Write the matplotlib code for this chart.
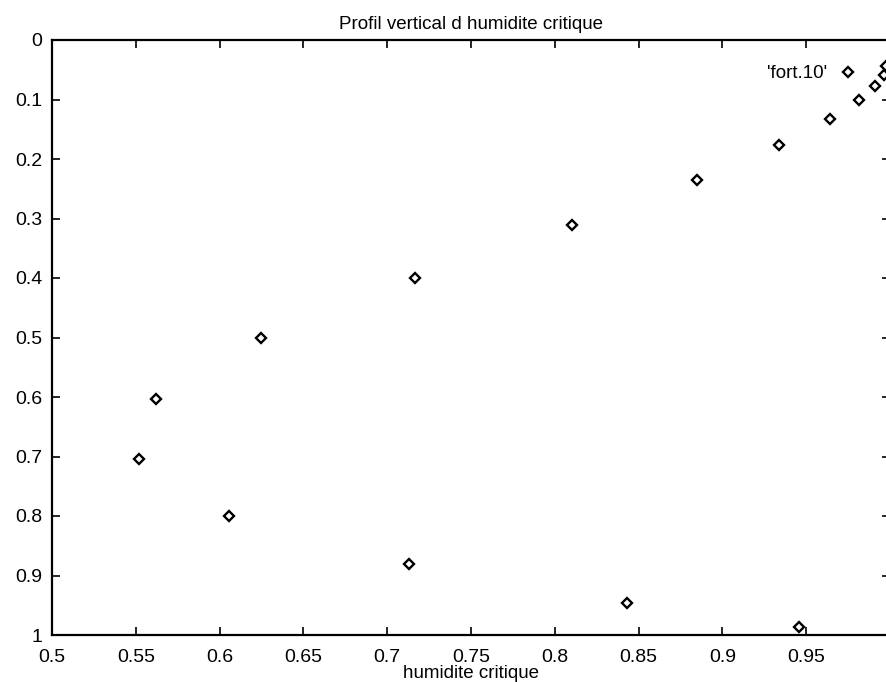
import matplotlib
matplotlib.use('Agg')
import matplotlib.pyplot as plt

plt.rcParams['font.family'] = ['Liberation Sans', 'DejaVu Sans']

# points (humidite critique vs depth)
hum = [0.9976, 0.9964, 0.991, 0.9815, 0.964, 0.934, 0.885, 0.810, 0.7166,
       0.625, 0.562, 0.552, 0.6056, 0.713, 0.843, 0.946]
niveau = [0.044, 0.059, 0.077, 0.101, 0.133, 0.176, 0.235, 0.311, 0.400,
          0.501, 0.603, 0.704, 0.800, 0.881, 0.946, 0.987]

xticks = [0.5, 0.55, 0.6, 0.65, 0.7, 0.75, 0.8, 0.85, 0.9, 0.95]
xlabels = ['0.5', '0.55', '0.6', '0.65', '0.7', '0.75', '0.8', '0.85', '0.9', '0.95']
yticks = [0, 0.1, 0.2, 0.3, 0.4, 0.5, 0.6, 0.7, 0.8, 0.9, 1]
ylabels = ['0', '0.1', '0.2', '0.3', '0.4', '0.5', '0.6', '0.7', '0.8', '0.9', '1']

fig = plt.figure(figsize=(8.86, 6.82), dpi=100)
# right edge of the frame runs just past the picture, like the scan
ax = fig.add_axes([52/886, 47/682, 838/886, 595/682])

ax.plot(hum, niveau, linestyle='none', marker='D', markersize=5,
        markerfacecolor='white', markeredgecolor='black', markeredgewidth=1.7,
        label="'fort.10'")

ax.set_xlim(0.5, 1.0)
ax.set_ylim(1.0, 0.0)
ax.set_xticks(xticks)
ax.set_xticklabels(xlabels)
ax.set_yticks(yticks)
ax.set_yticklabels(ylabels)
ax.tick_params(direction='in', length=6, width=1.2, top=True, right=True,
               labelsize=14, pad=7, colors='black')
ax.tick_params(axis='x', pad=10)
for s in ax.spines.values():
    s.set_linewidth(1.6)

ax.set_title('Profil vertical d humidite critique', fontsize=13.5, pad=8)
ax.set_xlabel('humidite critique', fontsize=13.5, labelpad=-1)

ax.legend(loc='upper right', bbox_to_anchor=(0.9606, 0.958), frameon=False,
          markerfirst=False, numpoints=1, handlelength=1.0, handletextpad=0.6,
          borderpad=0, borderaxespad=0, fontsize=13.5)

fig.savefig('out.png', dpi=100)
